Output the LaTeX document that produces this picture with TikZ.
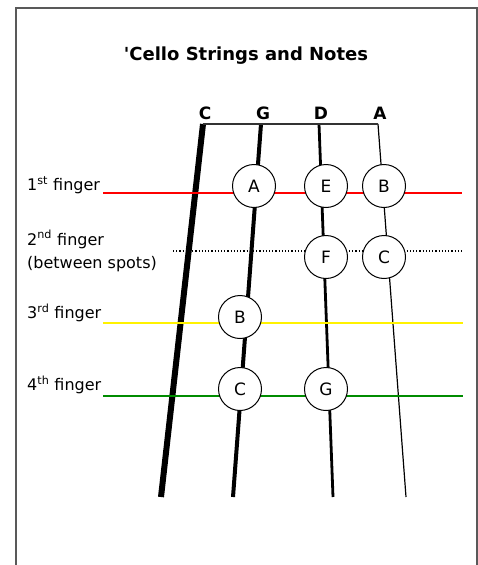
\documentclass[tikz,border=0pt]{standalone}
\usepackage{fontspec}
\setmainfont{DejaVu Sans}
\usetikzlibrary{positioning}

\begin{document}
\begin{tikzpicture}[x = 1pt, y = -1pt,
        notecircle/.style = {circle, fill = white, draw = black, line width = .1em, minimum size = 43pt, inner sep = 0pt, font = \fontsize{17}{19}\selectfont},
        fingerlabel/.style = {anchor = west, inner sep = 0pt, align = left, font = \fontsize{16}{23}\selectfont},
        fretline/.style = {line width = 2pt}]
    \useasboundingbox (0, 0) rectangle (478, 565);
    \draw[line width = 1.2pt, gray!70!black] (16, 566) -- (16, 8) -- (477, 8) -- (477, 566);

    \node (title) at (246, 56) {\fontsize{18}{21}\selectfont\bfseries \textquotesingle Cello Strings and Notes};

    % strings: top end, bottom end, thickness
    \foreach \sname/\xtop/\xbot/\thick in {C/203/161/6, G/261/233/4, D/319/333/2.8, A/378/406/1.2}
        {
            \coordinate (top\sname) at (\xtop, 124);
            \coordinate (bot\sname) at (\xbot, 497);
            \node[font = \fontsize{17}{19}\selectfont\bfseries, anchor = base] (lab\sname) at (\xtop + 2, 119) {\sname};
            \draw[line width = \thick pt] (top\sname) -- (bot\sname);
        }
    \draw[line width = 1.2pt, black!80] (topC) -- (topA);

    % fingers
    \node[fingerlabel] (finger1) at (27, 185) {1\textsuperscript{st} finger};
    \node[fingerlabel] (finger2) at (27, 251) {2\textsuperscript{nd} finger\\(between spots)};
    \node[fingerlabel] (finger3) at (27, 313) {3\textsuperscript{rd} finger};
    \node[fingerlabel] (finger4) at (27, 385) {4\textsuperscript{th} finger};

    \coordinate (red0) at (103, 193);
    \coordinate (red1) at (462, 193);
    \coordinate (dot0) at (173, 251);
    \coordinate (dot1) at (464, 251);
    \coordinate (yel0) at (103, 323);
    \coordinate (yel1) at (463, 323);
    \coordinate (grn0) at (103, 396);
    \coordinate (grn1) at (463, 396);
    \draw[fretline, red] (red0) -- (red1);
    \draw[line width = 1.2pt, dotted] (dot0) -- (dot1);
    \draw[fretline, yellow] (yel0) -- (yel1);
    \draw[fretline, green!55!black] (grn0) -- (grn1);

    % notes
    \node[notecircle] (noteA) at (254, 186) {A};
    \node[notecircle] (noteE) at (326, 186) {E};
    \node[notecircle] (noteB) at (384, 186) {B};
    \node[notecircle] (noteF) at (326, 257) {F};
    \node[notecircle] (noteC) at (384, 257) {C};
    \node[notecircle] (noteB2) at (240, 317) {B};
    \node[notecircle] (noteC2) at (240, 389) {C};
    \node[notecircle] (noteG) at (326, 389) {G};
\end{tikzpicture}
\end{document}
